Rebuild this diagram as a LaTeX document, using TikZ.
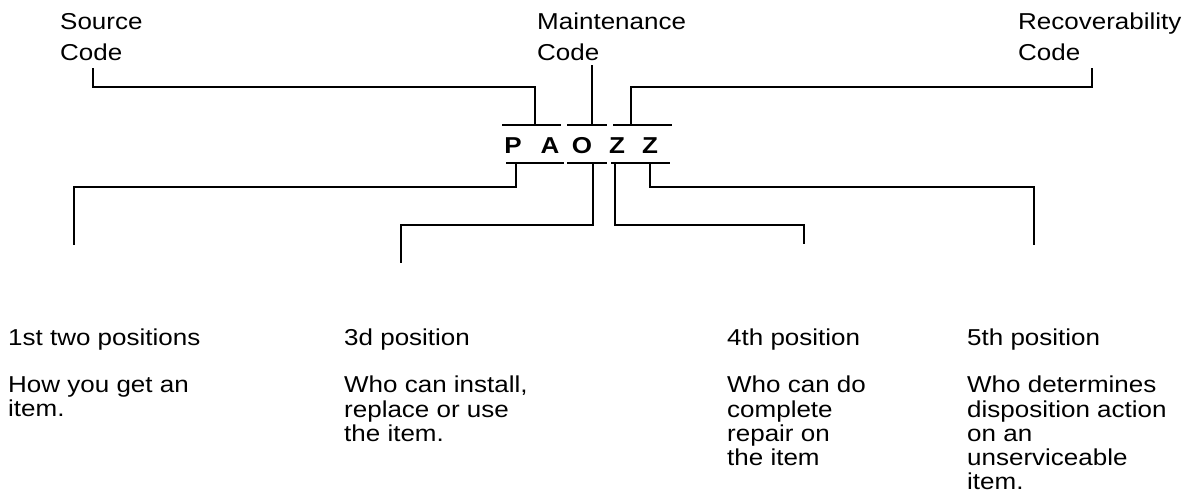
\documentclass[tikz,border=0pt]{standalone}
\usepackage{fontspec}
\setmainfont[FakeStretch=1.13]{Liberation Sans}
\begin{document}
\begin{tikzpicture}[x=1pt,y=-1pt,
  lbl/.style={anchor=north west, inner sep=0pt, align=left, font=\fontsize{23}{31}\selectfont},
  head/.style={anchor=base west, inner sep=0pt, font=\fontsize{23}{24}\selectfont},
  desc/.style={anchor=north west, inner sep=0pt, align=left, font=\fontsize{23}{24.2}\selectfont},
  letter/.style={anchor=base, inner sep=0pt, font=\fontsize{23}{24}\selectfont\bfseries},
  wire/.style={line width=2.6pt},
  bar/.style={line width=2.6pt},
]
\useasboundingbox (0,0) rectangle (1186,493);

% top labels
\node[lbl] (src) at (60,13) {Source\\Code};
\node[lbl] (mnt) at (537,13) {Maintenance\\Code};
\node[lbl] (rec) at (1018,13) {Recoverability\\Code};

% code letters
\node[letter] (P)  at (513,153) {P};
\node[letter] (A)  at (550,153) {A};
\node[letter] (O)  at (582,153) {O};
\node[letter] (Z1) at (617,153) {Z};
\node[letter] (Z2) at (650,153) {Z};

% top bars
\coordinate (ta1) at (502,125); \coordinate (tb1) at (561,125);
\coordinate (ta2) at (567,125); \coordinate (tb2) at (607,125);
\coordinate (ta3) at (613,125); \coordinate (tb3) at (672,125);
\draw[bar] (ta1) -- (tb1) (ta2) -- (tb2) (ta3) -- (tb3);
% bottom bars
\coordinate (ba1) at (506,163); \coordinate (bb1) at (564,163);
\coordinate (ba2) at (567,163); \coordinate (bb2) at (607,163);
\coordinate (ba3) at (611,163); \coordinate (bb3) at (670,163);
\draw[bar] (ba1) -- (bb1) (ba2) -- (bb2) (ba3) -- (bb3);

% attachment points
\coordinate (srcEnd) at (93,68);
\coordinate (mntEnd) at (592,65);
\coordinate (recEnd) at (1092,68);
\coordinate (sT) at (535,125);
\coordinate (mT) at (592,125);
\coordinate (rT) at (631,125);
\coordinate (pB) at (516,163);
\coordinate (oB) at (593,163);
\coordinate (z1B) at (615,163);
\coordinate (z2B) at (650,163);
\coordinate (e1) at (74,245);
\coordinate (e2) at (401,263);
\coordinate (e3) at (804,244);
\coordinate (e4) at (1034,245);

% upper connectors
\draw[wire] (srcEnd) -- ++(0,19) -| (sT);
\draw[wire] (mntEnd) -- (mT);
\draw[wire] (recEnd) -- ++(0,19) -| (rT);

% lower connectors
\draw[wire] (pB) -- ++(0,24) -| (e1);
\draw[wire] (oB) -- ++(0,62) -| (e2);
\draw[wire] (z1B) -- ++(0,62) -| (e3);
\draw[wire] (z2B) -- ++(0,24) -| (e4);

% descriptions
\node[head] (h1) at (8,345) {1st two positions};
\node[desc] (d1) at (8,376) {How you get an\\item.};
\node[head] (h2) at (344,345) {3d position};
\node[desc] (d2) at (344,376) {Who can install,\\replace or use\\the item.};
\node[head] (h3) at (727,345) {4th position};
\node[desc] (d3) at (727,376) {Who can do\\complete\\repair on\\the item};
\node[head] (h4) at (967,345) {5th position};
\node[desc] (d4) at (967,376) {Who determines\\disposition action\\on an\\unserviceable\\item.};
\end{tikzpicture}
\end{document}
